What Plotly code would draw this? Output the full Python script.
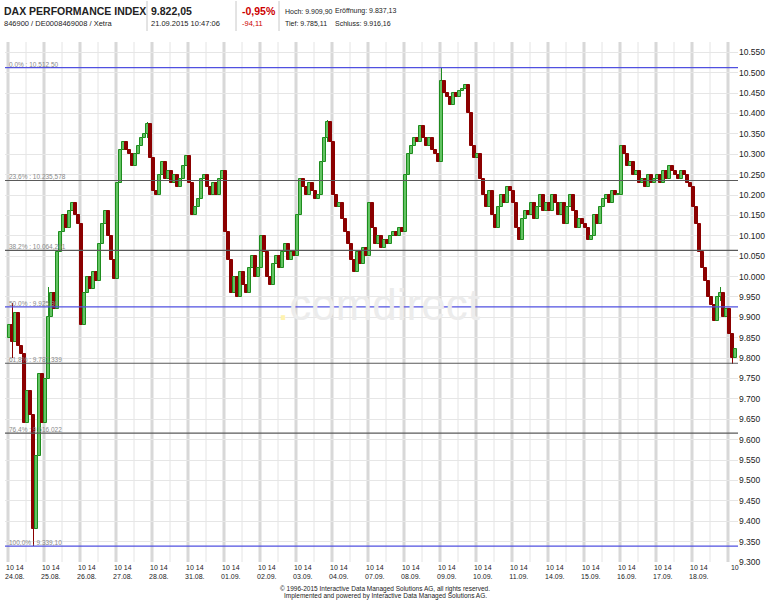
import plotly.graph_objects as go

# ---------------- data ----------------
days = ["24.08.", "25.08.", "26.08.", "27.08.", "28.08.", "31.08.", "01.09.", "02.09.",
        "03.09.", "04.09.", "07.09.", "08.09.", "09.09.", "10.09.", "11.09.", "14.09.",
        "15.09.", "16.09.", "17.09.", "18.09.", "21.09."]
hour_labels = "10 14"

first_open = 9850
closes_by_day = [
    [9880, 9840, 9910, 9830, 9810, 9640, 9720, 9660, 9380, 9560, 9760, 9640],
    [9750, 9900, 9960, 9920, 10060, 10110, 10150, 10120, 10160, 10180, 10150, 10130],
    [9880, 9960, 10000, 9970, 10010, 9990, 10080, 10130, 10160, 10100, 10040, 9995],
    [10230, 10310, 10330, 10310, 10300, 10270, 10300, 10320, 10340, 10350, 10375, 10290],
    [10210, 10200, 10250, 10280, 10240, 10260, 10230, 10250, 10220, 10240, 10270, 10295],
    [10230, 10150, 10170, 10190, 10240, 10250, 10220, 10200, 10230, 10200, 10240, 10260],
    [10110, 10040, 9960, 10000, 9950, 10010, 9980, 9960, 10020, 10050, 10000, 10020],
    [10100, 10060, 10000, 9980, 10030, 10050, 10020, 10060, 10080, 10040, 10060, 10050],
    [10150, 10240, 10220, 10200, 10230, 10210, 10190, 10200, 10280, 10340, 10380, 10330],
    [10200, 10170, 10180, 10140, 10110, 10080, 10040, 10010, 10060, 10030, 10070, 10050],
    [10180, 10120, 10080, 10100, 10070, 10090, 10080, 10100, 10110, 10100, 10120, 10110],
    [10250, 10300, 10320, 10340, 10330, 10370, 10340, 10320, 10340, 10310, 10300, 10280],
    [10480, 10450, 10440, 10420, 10450, 10440, 10455, 10460, 10470, 10400, 10320, 10290],
    [10300, 10240, 10200, 10170, 10210, 10150, 10120, 10170, 10200, 10180, 10220, 10210],
    [10180, 10120, 10090, 10140, 10160, 10150, 10180, 10140, 10170, 10200, 10160, 10180],
    [10160, 10200, 10180, 10150, 10180, 10130, 10170, 10200, 10160, 10120, 10140, 10130],
    [10120, 10090, 10100, 10150, 10130, 10170, 10190, 10200, 10180, 10210, 10200, 10200],
    [10320, 10300, 10270, 10280, 10250, 10260, 10230, 10240, 10220, 10250, 10230, 10240],
    [10250, 10230, 10260, 10240, 10270, 10260, 10250, 10240, 10260, 10250, 10230, 10220],
    [10170, 10130, 10060, 10020, 9990, 9950, 9930, 9890, 9950, 9960, 9900, 9920],
    [9860, 9800, 9822],
]
# extreme wicks: (day, slot, high, low)
wick_extremes = [(0, 8, 9660, 9339.10), (0, 1, 9935, 9800), (12, 0, 10512.50, 10460),
                 (8, 10, 10385, 10330), (3, 10, 10380, 10340), (19, 9, 9975, 9940),
                 (20, 1, 9862, 9785.11), (1, 1, 9975, 9750)]

fib_pcts = ["0,0%", "23,6%", "38,2%", "50,0%", "61,8%", "76,4%", "100,0%"]
fib_values = [10512.50, 10235.578, 10064.261, 9925.80, 9787.339, 9616.022, 9339.10]
fib_labels = ["10.512,50", "10.235,578", "10.064,261", "9.925,80", "9.787,339", "9.616,022", "9.339,10"]
fib_colors = ["#5050e0", "#5a5a5a", "#5a5a5a", "#5050e0", "#5a5a5a", "#5a5a5a", "#5050e0"]

header_name = "DAX PERFORMANCE INDEX"
header_id = "846900 / DE0008469008 / Xetra"
last_price = "9.822,05"
last_time = "21.09.2015 10:47:06"
chg_pct = "-0,95%"
chg_abs = "-94,11"
hoch, tief, eroeff, schluss = "9.909,90", "9.785,11", "9.837,13", "9.916,16"

# ---------------- build candles ----------------
slots = 12
xs, o, h, l, c = [], [], [], [], []
prev = first_open
for d, day_closes in enumerate(closes_by_day):
    for k, cl in enumerate(day_closes):
        xs.append(d + (k + 0.5) / slots)
        o.append(prev)
        c.append(cl)
        h.append(max(prev, cl))
        l.append(min(prev, cl))
        prev = cl
idx_of = {}
n = 0
for d, day_closes in enumerate(closes_by_day):
    for k in range(len(day_closes)):
        idx_of[(d, k)] = n
        n += 1
for d, k, hi, lo in wick_extremes:
    i = idx_of[(d, k)]
    h[i] = max(h[i], hi)
    l[i] = min(l[i], lo)

UP_LINE, UP_FILL, DN = "#1e8c1e", "#62c462", "#8b0000"
up = [cc >= oo for oo, cc in zip(o, c)]
fig = go.Figure()
# wicks
fig.add_trace(go.Bar(x=xs, y=[hi - lo for hi, lo in zip(h, l)], base=l, width=0.3 / slots,
                     marker=dict(color=[UP_LINE if u else DN for u in up], line=dict(width=0)),
                     showlegend=False, hoverinfo="skip"))
# bodies
fig.add_trace(go.Bar(x=xs, y=[max(abs(cc - oo), 2) for oo, cc in zip(o, c)],
                     base=[min(oo, cc) for oo, cc in zip(o, c)], width=0.9 / slots,
                     marker=dict(color=[UP_FILL if u else DN for u in up],
                                 line=dict(color=[UP_LINE if u else DN for u in up], width=1)),
                     showlegend=False, hoverinfo="skip"))

FONT = "Liberation Sans, Arial"
shapes = []
# vertical grid: day boundaries (thick) and mid-day (thin)
for d in range(len(days)):
    shapes.append(dict(type="line", xref="x", yref="paper", x0=d, x1=d, y0=0, y1=1,
                       line=dict(color="#d8d8d8", width=3), layer="below"))
    shapes.append(dict(type="line", xref="x", yref="paper", x0=d + 0.5, x1=d + 0.5, y0=0, y1=1,
                       line=dict(color="#e4e4e4", width=1), layer="below"))
# fibonacci lines
annotations = []
for p, v, lab, col in zip(fib_pcts, fib_values, fib_labels, fib_colors):
    shapes.append(dict(type="line", xref="paper", yref="y", x0=0, x1=1, y0=v, y1=v,
                       line=dict(color=col, width=1.2)))
    annotations.append(dict(xref="x", yref="y", x=-0.03, y=v, text=f"{p} : {lab}",
                            showarrow=False, xanchor="left", yanchor="bottom",
                            font=dict(family=FONT, size=6.5, color="#8a8a8a"), yshift=-2))

# watermark
annotations.append(dict(xref="paper", yref="paper", x=0.51, y=0.495,
                        text="<span style='color:#fff3b0'>.</span><span style='color:#ececec'>comdirect</span>",
                        showarrow=False, font=dict(family="Liberation Sans, Arial", size=44, color="#ececec"),
                        xanchor="center", yanchor="middle"))

W, H = 768, 600
L, R, T, B = 5, 30, 42, 38
pw, ph = W - L - R, H - T - B
def px(xp):
    return (xp - L) / pw
def py(yp):
    return 1 - (yp - T) / ph

def txt(x, y, s, size=8, color="#222222", bold=False):
    if bold:
        s = f"<b>{s}</b>"
    annotations.append(dict(xref="paper", yref="paper", x=px(x), y=py(y), text=s, showarrow=False,
                            xanchor="left", yanchor="middle", xshift=-1,
                            font=dict(family=FONT, size=size, color=color)))

txt(3, 11.5, header_name, size=10.5, bold=True)
txt(3, 23.5, header_id, size=7.5)
txt(150, 11.5, last_price, size=10.5, bold=True)
txt(150, 23.5, last_time, size=7.5)
txt(241, 11.5, chg_pct, size=10.5, bold=True, color="#cc0000")
txt(241, 23.5, chg_abs, size=7.5, color="#cc0000")
txt(284, 11.5, f"Hoch: {hoch}", size=7)
txt(284, 23.5, f"Tief: {tief}", size=7)
txt(334, 11.5, f"Eröffnung: {eroeff}", size=7)
txt(334, 23.5, f"Schluss: {schluss}", size=7)
for xs_ in (147, 236, 279):
    shapes.append(dict(type="line", xref="paper", yref="paper", x0=px(xs_), x1=px(xs_),
                       y0=py(1), y1=py(31), line=dict(color="#c8c8c8", width=1)))

# footer
for yy, line in ((589, "© 1996-2015 Interactive Data Managed Solutions AG, all rights reserved."),
                 (596, "Implemented and powered by Interactive Data Managed Solutions AG.")):
    annotations.append(dict(xref="paper", yref="paper", x=px(385), y=py(yy), text=line,
                            showarrow=False, xanchor="center", yanchor="middle",
                            font=dict(family=FONT, size=6.5, color="#222222")))

tickvals = [d + 0.19 for d in range(len(days))]
ticktext = [f"{hour_labels}<br>{dd}" if i < len(days) - 1 else "10" for i, dd in enumerate(days)]

fig.update_layout(
    width=W, height=H, margin=dict(l=L, r=R, t=T, b=B, autoexpand=False),
    paper_bgcolor="white", plot_bgcolor="white",
    separators=",.", barmode="overlay", bargap=0,
    font=dict(family=FONT, size=8, color="#222222"),
    shapes=shapes, annotations=annotations,
    xaxis=dict(range=[-3 / 36, 730 / 36], showgrid=False, zeroline=False, automargin=False,
               tickmode="array", tickvals=tickvals, ticktext=ticktext,
               ticks="", tickfont=dict(size=7, color="#222222"), showline=False),
    yaxis=dict(range=[9300, 10575.2], side="right", dtick=50, tick0=9300, automargin=False,
               tickformat=",d", showgrid=True, gridcolor="#e6e6e6", gridwidth=1,
               zeroline=False, ticks="", tickfont=dict(size=8.5, color="#222222"),
               showline=False),
)

fig.write_html("out.html", config={"displayModeBar": False},
               post_script="document.body.style.margin='0px';document.body.style.padding='0px';")
